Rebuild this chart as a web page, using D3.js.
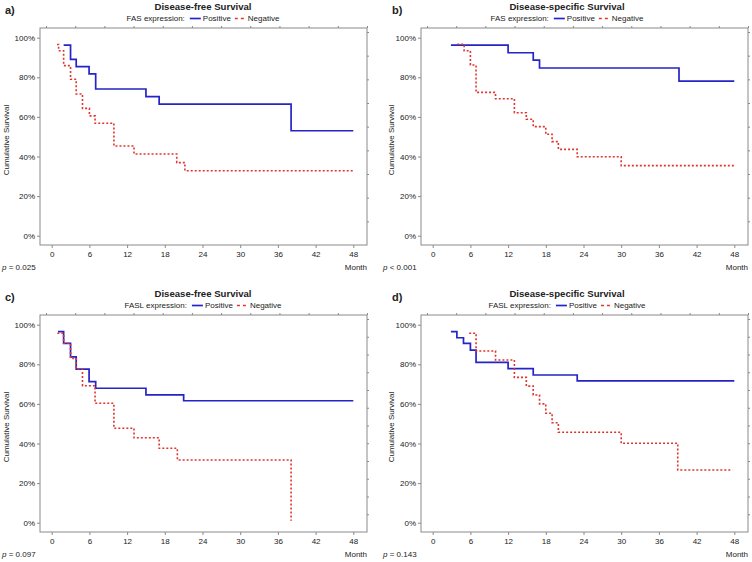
<!DOCTYPE html>
<html><head><meta charset="utf-8">
<script src="https://cdn.jsdelivr.net/npm/d3@7"></script>
<style>
body{margin:0;background:#fff}
svg{display:block}
text{font-family:"Liberation Sans",Arial,sans-serif;fill:#222}
</style>
</head><body>
<svg id="chart" width="752" height="562"></svg>
<script>
// ---------- data ----------
const monthTicks = [0, 6, 12, 18, 24, 30, 36, 42, 48];
const pctTicks = [0, 20, 40, 60, 80, 100];
const panelLabels = ["a)", "b)", "c)", "d)"];
const titles = ["Disease-free Survival", "Disease-specific Survival", "Disease-free Survival", "Disease-specific Survival"];
const legendTitles = ["FAS expression:", "FAS expression:", "FASL expression:", "FASL expression:"];
const seriesNames = ["Positive", "Negative"];
const pValues = ["= 0.025", "< 0.001", "= 0.097", "= 0.143"];
const xAxisLabel = "Month";
const yAxisLabel = "Cumulative Survival";

// a) FAS, disease-free
const aPosMonths = [1.9, 3.0, 3.9, 5.95, 7.0, 15.0, 17.1, 38.1, 48];
const aPosSurv   = [96.3, 89.1, 85.4, 81.7, 74.1, 70.2, 66.5, 53.0, 53.0];
const aNegMonths = [0.85, 1.1, 1.9, 3.0, 3.9, 4.9, 6.0, 6.9, 9.9, 13.1, 19.9, 21.2, 48];
const aNegSurv   = [96.6, 93.4, 85.9, 79.0, 71.6, 64.3, 60.5, 56.8, 45.3, 41.3, 36.9, 32.8, 32.8];
// b) FAS, disease-specific
const bPosMonths = [2.9, 12.0, 16.0, 17.0, 39.2, 48];
const bPosSurv   = [96.3, 92.4, 88.7, 84.7, 78.1, 78.1];
const bNegMonths = [3.9, 5.0, 6.0, 6.9, 10.0, 13.0, 14.9, 16.0, 18.0, 19.0, 20.0, 23.0, 30.0, 48];
const bNegSurv   = [96.7, 93.4, 86.2, 72.4, 69.2, 62.1, 58.8, 55.1, 51.2, 47.5, 43.6, 39.9, 35.4, 35.4];
// c) FASL, disease-free
const cPosMonths = [1.0, 1.9, 3.0, 3.9, 5.95, 7.0, 15.0, 21.0, 48];
const cPosSurv   = [96.5, 90.6, 83.8, 77.6, 71.2, 67.9, 64.6, 61.6, 61.6];
const cNegMonths = [0.9, 1.9, 3.0, 3.9, 4.9, 6.9, 9.9, 13.1, 17.1, 20.0, 38.1];
const cNegSurv   = [95.7, 90.6, 83.0, 77.6, 69.2, 60.3, 47.7, 42.9, 37.6, 31.7, 1.0];
// d) FASL, disease-specific
const dPosMonths = [2.9, 3.85, 4.9, 6.0, 6.9, 12.0, 16.0, 23.0, 48];
const dPosSurv   = [96.5, 93.4, 90.6, 87.2, 81.0, 77.8, 74.6, 71.6, 71.6];
const dNegMonths = [5.8, 6.9, 10.0, 13.0, 14.9, 16.0, 17.0, 18.0, 19.0, 20.0, 30.0, 39.0, 47.7];
const dNegSurv   = [95.7, 86.7, 82.2, 73.4, 69.0, 64.5, 60.0, 55.3, 50.5, 45.7, 40.1, 26.6, 26.6];

const panelSeries = [
  [[aPosMonths, aPosSurv], [aNegMonths, aNegSurv]],
  [[bPosMonths, bPosSurv], [bNegMonths, bNegSurv]],
  [[cPosMonths, cPosSurv], [cNegMonths, cNegSurv]],
  [[dPosMonths, dPosSurv], [dNegMonths, dNegSurv]]
];

// ---------- layout / style ----------
const offsets = [[0, 0], [381, 0], [0, 287], [381, 287]];
const frame = {left: 40, right: 367, top: 28, bottom: 245};
const titleCenters = [203, 186, 203, 186];
const labelX = [5, 11, 5, 11];
const yLabelX = [7, 11, 7, 11];
const colors = ["#2424c8", "#e0342e"];
const axisColor = "#8a8a8a";
const rightTickCounts = [9, 9, 12, 12];

const svg = d3.select("#chart");

panelSeries.forEach((series, i) => {
  const [dx, dy] = offsets[i];
  const g = svg.append("g").attr("transform", `translate(${dx},${dy})`);
  const x = d3.scaleLinear().domain([0, 48]).range([51.7, 353.3]);
  const y = d3.scaleLinear().domain([0, 100]).range([235.7, 37.7]);

  // frame
  g.append("rect")
    .attr("x", frame.left).attr("y", frame.top)
    .attr("width", frame.right - frame.left).attr("height", frame.bottom - frame.top)
    .attr("fill", "none").attr("stroke", axisColor).attr("stroke-width", 1);

  // left axis
  const ya = g.append("g").attr("transform", `translate(${frame.left},0)`)
    .call(d3.axisLeft(y).tickValues(pctTicks).tickFormat(d => d + "%").tickSize(3).tickPadding(2));
  ya.select(".domain").remove();
  ya.selectAll("line").attr("stroke", axisColor);
  ya.selectAll("text").attr("font-size", 8).attr("fill", "#333").style("font-family", "Liberation Sans, Arial, sans-serif");

  // bottom axis
  const xa = g.append("g").attr("transform", `translate(0,${frame.bottom})`)
    .call(d3.axisBottom(x).tickValues(monthTicks).tickSize(3).tickPadding(3));
  xa.select(".domain").remove();
  xa.selectAll("line").attr("stroke", axisColor);
  xa.selectAll("text").attr("font-size", 8).attr("fill", "#333").style("font-family", "Liberation Sans, Arial, sans-serif");

  // minor ticks on top and right edges
  const topScale = d3.scaleLinear().domain([0, 11]).range([frame.left + 6, frame.right]);
  const ta = g.append("g").attr("transform", `translate(0,${frame.top})`)
    .call(d3.axisTop(topScale).tickValues(d3.range(0, 12)).tickSize(2).tickFormat(""));
  ta.select(".domain").remove();
  ta.selectAll("line").attr("stroke", axisColor);
  const rScale = d3.scaleLinear().domain([0, rightTickCounts[i]]).range([frame.bottom, frame.top + 4]);
  const ra = g.append("g").attr("transform", `translate(${frame.right},0)`)
    .call(d3.axisRight(rScale).tickValues(d3.range(1, rightTickCounts[i] + 1)).tickSize(2).tickFormat(""));
  ra.select(".domain").remove();
  ra.selectAll("line").attr("stroke", axisColor);

  // curves
  const line = d3.line().x(d => x(d[0])).y(d => y(d[1])).curve(d3.curveStepAfter);
  series.forEach(([months, surv], k) => {
    const pts = months.map((m, j) => [m, surv[j]]);
    g.append("path").datum(pts)
      .attr("d", line)
      .attr("fill", "none")
      .attr("stroke", colors[k])
      .attr("stroke-width", k === 0 ? 1.7 : 1.6)
      .attr("stroke-dasharray", k === 0 ? null : "2,2");
  });

  // panel label
  g.append("text").attr("x", labelX[i]).attr("y", 14)
    .attr("font-size", 11).attr("font-weight", "bold").attr("fill", "#111").text(panelLabels[i]);

  // title
  const cx = titleCenters[i];
  g.append("text").attr("x", cx).attr("y", 10)
    .attr("text-anchor", "middle").attr("font-size", 9.6).attr("font-weight", "bold").attr("fill", "#111")
    .text(titles[i]);

  // legend
  const lg = g.append("g");
  let cur = 0;
  const t0 = lg.append("text").attr("x", cur).attr("y", 21).attr("font-size", 8).text(legendTitles[i]);
  cur += t0.node().getComputedTextLength() + 5;
  seriesNames.forEach((name, k) => {
    lg.append("line").attr("x1", cur).attr("x2", cur + 11).attr("y1", 18.5).attr("y2", 18.5)
      .attr("stroke", colors[k]).attr("stroke-width", 1.7)
      .attr("stroke-dasharray", k === 0 ? null : "3,3");
    cur += 13;
    const tt = lg.append("text").attr("x", cur).attr("y", 21).attr("font-size", 8).text(name);
    cur += tt.node().getComputedTextLength() + 4;
  });
  const lw = cur - 4;
  lg.attr("transform", `translate(${cx - lw / 2},0)`);

  // y label
  g.append("text").attr("transform", `translate(${yLabelX[i] + 2},140) rotate(-90)`)
    .attr("text-anchor", "middle").attr("font-size", 8).attr("fill", "#333").text(yAxisLabel);

  // p value
  const pt = g.append("text").attr("x", 2).attr("y", 270).attr("font-size", 8).attr("fill", "#333");
  pt.append("tspan").attr("font-style", "italic").text("p");
  pt.append("tspan").text(" " + pValues[i]);

  // month label
  g.append("text").attr("x", frame.right).attr("y", 270).attr("text-anchor", "end")
    .attr("font-size", 8).attr("fill", "#333").text(xAxisLabel);
});
</script>
</body></html>
